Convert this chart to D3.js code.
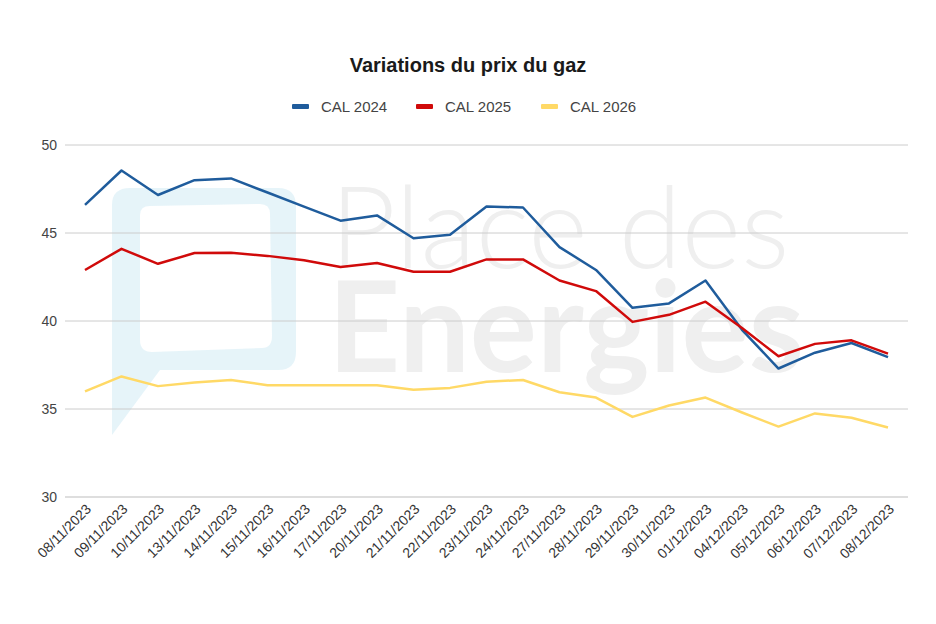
<!DOCTYPE html>
<html><head><meta charset="utf-8">
<script src="https://cdn.jsdelivr.net/npm/d3@7/dist/d3.min.js"></script>
<style>body{margin:0;background:#fff}svg{display:block;font-family:"Liberation Sans",Arial,sans-serif}</style>
</head><body><svg id="c" width="936" height="624"></svg>
<script>
const dates=["08/11/2023","09/11/2023","10/11/2023","13/11/2023","14/11/2023","15/11/2023","16/11/2023","17/11/2023","20/11/2023","21/11/2023","22/11/2023","23/11/2023","24/11/2023","27/11/2023","28/11/2023","29/11/2023","30/11/2023","01/12/2023","04/12/2023","05/12/2023","06/12/2023","07/12/2023","08/12/2023"];
const cal2024=[46.6,48.55,47.16,48.0,48.1,47.3,46.5,45.7,46.0,44.7,44.9,46.5,46.45,44.2,42.9,40.75,41.0,42.3,39.5,37.3,38.2,38.75,37.95];
const cal2025=[42.9,44.1,43.25,43.86,43.88,43.7,43.45,43.07,43.3,42.8,42.8,43.5,43.5,42.3,41.7,39.95,40.35,41.1,39.6,38.0,38.7,38.9,38.15];
const cal2026=[36.0,36.85,36.3,36.5,36.65,36.35,36.35,36.35,36.35,36.1,36.2,36.55,36.65,35.95,35.65,34.55,35.2,35.65,34.8,34.0,34.75,34.5,33.95];
const yTicks=[30,35,40,45,50];
const seriesNames=["CAL 2024","CAL 2025","CAL 2026"];
const colors=["#1f5c9c","#d00a0a","#ffd966"];

const svg=d3.select("#c");
const x=d3.scalePoint().domain(dates).range([85,888]);
const y=d3.scaleLinear().domain([30,50]).range([497,145]);

// watermark
const wm=svg.append("g");
wm.append("path").attr("d","M112,435 L112,205 Q112,188 130,188 L278,188 Q296,188 296,206 L296,352 Q296,370 278,370 L160,370 Z M140,215 L140,340 Q140,352 152,352 L262,348 Q272,348 272,336 L270,214 Q270,204 260,204 L150,206 Q140,206 140,215 Z")
  .attr("fill","#e3f3f8").attr("fill-rule","evenodd").attr("opacity",0.9);
const wt=wm.append("text").attr("font-family","Lato, sans-serif").attr("fill","#efefef");
wt.append("tspan").attr("x",330).attr("y",268).attr("font-weight",300).attr("font-size",114).text("Place des");
wt.append("tspan").attr("x",328).attr("y",372).attr("font-weight",700).attr("font-size",126)
  .attr("textLength",476).attr("lengthAdjust","spacingAndGlyphs").text("Energies");

// gridlines
svg.append("g").selectAll("line").data(yTicks).join("line")
  .attr("x1",65).attr("x2",908).attr("y1",d=>y(d)).attr("y2",d=>y(d))
  .attr("stroke",d=>d===30?"#bdbdbd":"#cccccc").attr("stroke-width",1);
svg.append("g").selectAll("text").data(yTicks).join("text")
  .attr("x",57).attr("y",d=>y(d)+5).attr("text-anchor","end")
  .attr("font-size",14).attr("fill","#444").text(d=>d);

// x labels
svg.append("g").selectAll("text").data(dates).join("text")
  .attr("transform",d=>`translate(${x(d)+7},${510}) rotate(-45)`)
  .attr("text-anchor","end").attr("font-size",14).attr("fill","#333").text(d=>d);

// lines
const line=d3.line().x((d,i)=>x(dates[i])).y(d=>y(d));
[cal2024,cal2025,cal2026].forEach((s,k)=>{
  svg.append("path").datum(s).attr("d",line).attr("fill","none")
   .attr("stroke",colors[k]).attr("stroke-width",2.5).attr("stroke-linejoin","round");
});
svg.append("text").attr("x",468).attr("y",72).attr("text-anchor","middle")
  .attr("font-size",20).attr("font-weight",700).attr("fill","#1a1a1a").text("Variations du prix du gaz");

// legend
const lx=[292,416,541];
seriesNames.forEach((n,k)=>{
  svg.append("rect").attr("x",lx[k]).attr("y",104).attr("width",17).attr("height",5).attr("rx",1).attr("fill",colors[k]);
  svg.append("text").attr("x",lx[k]+29).attr("y",112).attr("font-size",15).attr("fill","#444").text(n);
});
</script></body></html>
